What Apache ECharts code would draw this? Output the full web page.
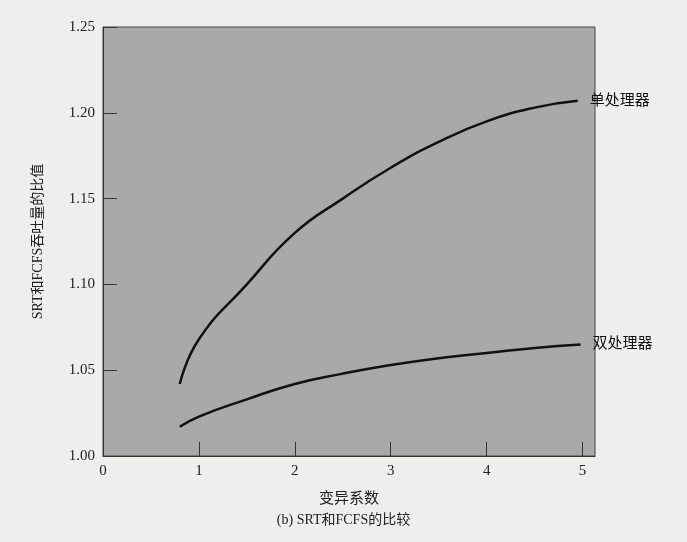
<!DOCTYPE html>
<html><head><meta charset="utf-8">
<script src="https://cdn.jsdelivr.net/npm/echarts@6/dist/echarts.min.js"></script>
<style>html,body{margin:0;background:#eeeeec;}#c{width:687px;height:542px;}</style>
</head><body><div id="c"></div>
<script>
const xSingle = [0.8, 1, 1.5, 2, 2.5, 3, 3.5, 4, 4.5, 4.95];
const ySingle = [1.042, 1.068, 1.100, 1.130, 1.150, 1.168, 1.183, 1.195, 1.203, 1.207];
const xDual = [0.8, 1, 1.5, 2, 2.5, 3, 3.5, 4, 4.5, 4.98];
const yDual = [1.017, 1.023, 1.033, 1.042, 1.048, 1.053, 1.057, 1.060, 1.063, 1.065];
const seriesNames = ['单处理器', '双处理器'];
const xTitle = '变异系数';
const yTitle = 'SRT和FCFS吞吐量的比值';
const caption = '(b) SRT和FCFS的比较';
const serif = '"Liberation Serif","Noto Sans CJK SC",serif';
const chart = echarts.init(document.getElementById('c'));
function mk(xs, ys, name){
  return {type:'line', name, smooth:true, showSymbol:false, data: xs.map((x,i)=>[x,ys[i]]),
    lineStyle:{color:'#111', width:2.5},
    endLabel:{show:true, formatter:name, distance:12, color:'#111', fontSize:15, fontFamily:serif}};
}
chart.setOption({
  animation:false,
  title:{text:caption, left:'center', top:508, textStyle:{fontSize:14, fontWeight:'normal', color:'#222', fontFamily:serif}},
  grid:{left:103, right:92, top:27, bottom:86, show:true, backgroundColor:'#a9a9a9', borderColor:'#444', borderWidth:1},
  xAxis:{type:'value', min:0, max:5.13, interval:1, name:xTitle, nameLocation:'middle', nameGap:36,
    nameTextStyle:{fontSize:15, color:'#222', fontFamily:serif},
    axisLine:{lineStyle:{color:'#333'}}, axisTick:{inside:true, length:14, lineStyle:{color:'#333'}},
    splitLine:{show:false}, axisLabel:{showMaxLabel:false, color:'#222', fontSize:15, fontFamily:serif, margin:8}},
  yAxis:{type:'value', min:1, max:1.25, interval:0.05, name:yTitle, nameLocation:'middle', nameGap:58,
    nameTextStyle:{fontSize:14, color:'#222', fontFamily:serif},
    axisLine:{show:true, lineStyle:{color:'#333'}}, axisTick:{show:true, inside:true, length:14, lineStyle:{color:'#333'}},
    splitLine:{show:false}, axisLabel:{color:'#222', fontSize:15, fontFamily:serif, formatter:v=>v.toFixed(2)}},
  series:[mk(xSingle,ySingle,seriesNames[0]), mk(xDual,yDual,seriesNames[1])]
});
</script></body></html>
